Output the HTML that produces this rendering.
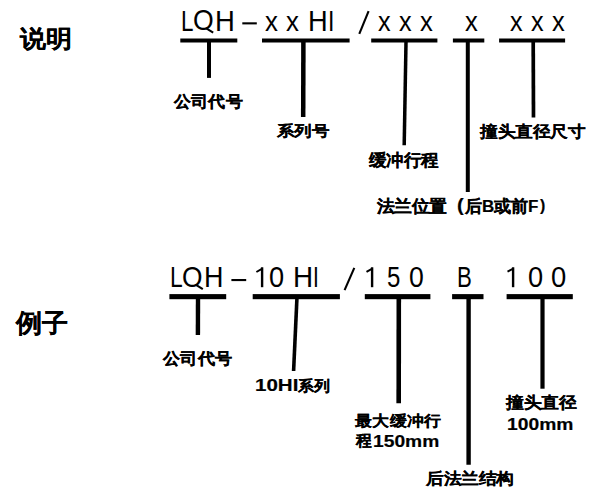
<!DOCTYPE html>
<html><head><meta charset="utf-8"><style>
html,body{margin:0;padding:0;background:#fff;width:602px;height:498px;overflow:hidden}
div{position:absolute;font-family:"Liberation Sans",sans-serif;line-height:1;white-space:nowrap;color:#000;transform-origin:0 0}
.b{font-weight:bold;-webkit-text-stroke:0.2px #000}
svg{position:absolute;left:0;top:0}
</style></head><body>
<svg width="602" height="498" viewBox="0 0 602 498">
<g fill="#000">
<rect x="180.3" y="38.5" width="57" height="4"/>
<rect x="262" y="38.5" width="87.6" height="4"/>
<rect x="371.2" y="38.5" width="66.2" height="4"/>
<rect x="452.9" y="38.5" width="31.4" height="4"/>
<rect x="499.1" y="38.5" width="66" height="4"/>
<rect x="169.4" y="294.1" width="56.8" height="5.1"/>
<rect x="252.7" y="294.1" width="87.2" height="5.1"/>
<rect x="364.8" y="294.1" width="65.6" height="5.1"/>
<rect x="452.1" y="294.1" width="31.4" height="5.1"/>
<rect x="506.6" y="294.1" width="66.2" height="5.1"/>
<rect x="242.3" y="22.3" width="14.5" height="2.1"/>
<rect x="231.4" y="279" width="14.8" height="2.1"/>
<rect x="370.9" y="267.3" width="2.4" height="19.9"/>
<rect x="511.9" y="267.3" width="2.4" height="19.9"/>
<rect x="260.9" y="267.3" width="2.4" height="19.9"/>
</g>
<g stroke="#000" fill="none">
<line x1="209" y1="42" x2="209" y2="77.9" stroke-width="4"/>
<line x1="303.4" y1="42" x2="303.2" y2="116.9" stroke-width="4.5"/>
<line x1="406" y1="42" x2="404.2" y2="145.3" stroke-width="3.5"/>
<line x1="467.8" y1="42" x2="467.8" y2="191.9" stroke-width="4"/>
<line x1="533.2" y1="42" x2="533.5" y2="117.5" stroke-width="3.7"/>
<line x1="198" y1="299" x2="197.9" y2="335" stroke-width="4.4"/>
<line x1="296.9" y1="299" x2="293.6" y2="371" stroke-width="3.6"/>
<line x1="398.8" y1="299" x2="398.7" y2="403.2" stroke-width="4.6"/>
<line x1="468.6" y1="299" x2="468.6" y2="464.8" stroke-width="4.4"/>
<line x1="542.5" y1="299" x2="542.5" y2="388.7" stroke-width="4.2"/>
<line x1="368.6" y1="11.2" x2="359.3" y2="33.8" stroke-width="2.1"/>
<line x1="354.3" y1="267.8" x2="344.6" y2="290.2" stroke-width="2.1"/>
<line x1="372.7" y1="268.4" x2="366.5" y2="271.9" stroke-width="2"/>
<line x1="513.7" y1="268.4" x2="507.5" y2="271.6" stroke-width="2"/>
<line x1="262.7" y1="268.4" x2="256.4" y2="272.0" stroke-width="2"/>
<line x1="206.3" y1="28.4" x2="213.2" y2="32.6" stroke-width="2.1"/>
<line x1="195.6" y1="284.7" x2="202.8" y2="289.2" stroke-width="2.1"/>
</g>
</svg>

<div class="b" style="left:19.93px;top:27.26px;font-size:28px;transform:scale(0.9273,0.8552)">说明</div>
<div class="r" style="left:181.00px;top:6.39px;font-size:28px;transform:scale(0.8000,1.0658)">L</div>
<div class="r" style="left:192.95px;top:6.31px;font-size:28px;transform:scale(0.9500,1.0474)">O</div>
<div class="r" style="left:214.54px;top:6.39px;font-size:28px;transform:scale(0.9812,1.0658)">H</div>
<div class="r" style="left:265.00px;top:7.75px;font-size:28px;transform:scale(0.9214,1.0067)">x</div>
<div class="r" style="left:285.60px;top:7.75px;font-size:28px;transform:scale(0.9214,1.0067)">x</div>
<div class="r" style="left:307.65px;top:6.39px;font-size:28px;transform:scale(0.9750,1.0658)">H</div>
<div class="r" style="left:327.95px;top:6.39px;font-size:28px;transform:scale(0.8250,1.0658)">I</div>
<div class="r" style="left:378.30px;top:7.80px;font-size:28px;transform:scale(0.9000,1.0000)">x</div>
<div class="r" style="left:398.90px;top:7.80px;font-size:28px;transform:scale(0.9000,1.0000)">x</div>
<div class="r" style="left:420.40px;top:7.75px;font-size:28px;transform:scale(0.9143,1.0067)">x</div>
<div class="r" style="left:465.20px;top:7.75px;font-size:28px;transform:scale(0.9143,1.0067)">x</div>
<div class="r" style="left:510.00px;top:8.11px;font-size:28px;transform:scale(0.9000,0.9867)">x</div>
<div class="r" style="left:530.90px;top:8.11px;font-size:28px;transform:scale(0.9000,0.9867)">x</div>
<div class="r" style="left:552.20px;top:8.11px;font-size:28px;transform:scale(0.9071,0.9867)">x</div>
<div class="b" style="left:174.10px;top:93.20px;font-size:18px;transform:scale(0.9583,0.9056)">公司代号</div>
<div class="b" style="left:277.40px;top:124.13px;font-size:18px;transform:scale(0.9630,0.8263)">系列号</div>
<div class="b" style="left:368.60px;top:151.60px;font-size:18px;transform:scale(0.9639,0.9389)">缓冲行程</div>
<div class="b" style="left:377.20px;top:197.70px;font-size:18px;transform:scale(0.9653,0.9222)">法兰位置</div>
<div class="b" style="left:456.88px;top:196.35px;font-size:18px;transform:scale(1.1200,0.9765)">(</div>
<div class="b" style="left:465.00px;top:197.60px;font-size:18px;transform:scale(0.9410,0.9389)">后B或前F</div>
<div class="b" style="left:540.40px;top:197.14px;font-size:18px;transform:scale(0.8833,0.9294)">)</div>
<div class="b" style="left:480.00px;top:123.90px;font-size:18px;transform:scale(0.9741,0.8833)">撞头直径尺寸</div>
<div class="b" style="left:16.23px;top:310.80px;font-size:28px;transform:scale(0.9286,0.9286)">例子</div>
<div class="r" style="left:170.37px;top:262.91px;font-size:28px;transform:scale(0.8154,1.0474)">L</div>
<div class="r" style="left:182.26px;top:262.79px;font-size:28px;transform:scale(0.9400,1.0526)">O</div>
<div class="r" style="left:203.67px;top:263.15px;font-size:28px;transform:scale(0.9625,1.0368)">H</div>
<div class="r" style="left:268.63px;top:262.75px;font-size:28px;transform:scale(0.9714,1.0632)">0</div>
<div class="r" style="left:293.01px;top:262.99px;font-size:28px;transform:scale(0.9937,1.0526)">H</div>
<div class="r" style="left:313.40px;top:262.99px;font-size:28px;transform:scale(0.7500,1.0526)">I</div>
<div class="r" style="left:387.44px;top:263.29px;font-size:28px;transform:scale(0.8571,1.0263)">5</div>
<div class="r" style="left:409.35px;top:263.29px;font-size:28px;transform:scale(0.9500,1.0263)">0</div>
<div class="r" style="left:457.41px;top:262.91px;font-size:28px;transform:scale(0.7937,1.0474)">B</div>
<div class="r" style="left:528.03px;top:263.29px;font-size:28px;transform:scale(0.9714,1.0263)">0</div>
<div class="r" style="left:551.02px;top:263.29px;font-size:28px;transform:scale(0.9786,1.0263)">0</div>
<div class="b" style="left:163.00px;top:350.00px;font-size:18px;transform:scale(0.9611,0.9000)">公司代号</div>
<div class="b" style="left:255.06px;top:377.08px;font-size:18px;transform:scale(1.1417,0.9077)">10HI</div>
<div class="b" style="left:298.00px;top:378.72px;font-size:18px;transform:scale(0.8722,0.8211)">系列</div>
<div class="b" style="left:355.00px;top:412.90px;font-size:18px;transform:scale(0.9633,0.8556)">最大缓冲行</div>
<div class="b" style="left:356.48px;top:432.61px;font-size:18px;transform:scale(0.8789,0.8941)">程</div>
<div class="b" style="left:372.53px;top:433.25px;font-size:18px;transform:scale(1.0683,0.9231)">150mm</div>
<div class="b" style="left:506.30px;top:395.40px;font-size:18px;transform:scale(0.9778,0.8778)">撞头直径</div>
<div class="b" style="left:506.93px;top:415.99px;font-size:18px;transform:scale(1.0700,0.9538)">100mm</div>
<div class="b" style="left:426.30px;top:470.90px;font-size:18px;transform:scale(0.9764,0.8833)">后法兰结构</div>
</body></html>
